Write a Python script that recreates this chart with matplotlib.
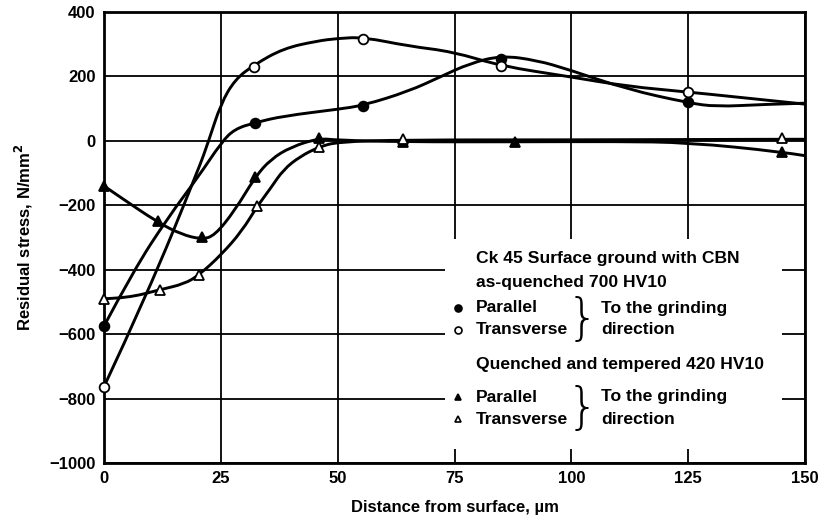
import numpy as np
import matplotlib.pyplot as plt
from matplotlib.path import Path
from matplotlib.patches import PathPatch, Rectangle
from matplotlib.lines import Line2D

plt.rcParams['font.family'] = ['Liberation Sans', 'DejaVu Sans']

# Measured points (markers)
fc_x = [0, 32.4, 55.5, 85, 125]          # as-quenched, parallel
fc_y = [-575, 55, 108, 255, 120]
oc_x = [0, 32.1, 55.5, 85, 125]          # as-quenched, transverse
oc_y = [-763, 228, 317, 231, 151]
ft_x = [0, 11.5, 20.9, 32.4, 45.9, 64, 88, 145]   # Q+T, parallel
ft_y = [-140, -250, -300, -111, 10, -5, -5, -34]
ot_x = [0, 12, 20.4, 32.8, 46, 64, 145]          # Q+T, transverse
ot_y = [-490, -462, -416, -203, -19, 5, 8]

# Curve traces
fc_cx = [0, 6.3, 13.7, 20.2, 25.2, 28, 32.4, 38.4, 50, 55.5, 65.2, 72, 78.2, 85, 92.6, 99.3, 112, 125, 131, 141, 150]
fc_cy = [-575, -403, -238, -111, -3, 37, 57, 77, 98, 110, 154, 199, 240, 265, 250, 222, 160, 118, 106, 113, 117]
oc_cx = [0, 9.3, 20.2, 22.4, 25, 28, 32.1, 38.4, 45.6, 50, 55.5, 65.2, 74.6, 85, 99.3, 112, 125, 150]
oc_cy = [-763, -475, -89, 0, 115, 190, 236, 287, 310, 318, 322, 294, 277, 232, 200, 169, 152, 114]
ft_cx = [0, 3.5, 11.5, 16.5, 20.9, 23.7, 28, 32.4, 35.7, 40, 45.9, 50, 64, 88, 110, 125, 145, 150]
ft_cy = [-140, -175, -253, -290, -306, -294, -216, -111, -57, -19, 8, 2, -3, -3, -2, -5, -34, -46]
ot_cx = [0, 5, 12, 17.2, 20.4, 25.2, 29.5, 32.8, 35.7, 38.4, 42, 46, 50, 64, 100, 145, 150]
ot_cy = [-490, -488, -462, -444, -416, -352, -280, -203, -146, -89, -48, -19, -3, 3, 3, 5, 5]


def smooth_curve(ax, xs, ys):
    # quadratic bezier through midpoints, trace points act as control points
    pts = list(zip(xs, ys))
    verts = [pts[0]]
    codes = [Path.MOVETO]
    for i in range(1, len(pts) - 1):
        mid = ((pts[i][0] + pts[i + 1][0]) / 2, (pts[i][1] + pts[i + 1][1]) / 2)
        if i == len(pts) - 2:
            mid = pts[-1]
        verts += [pts[i], mid]
        codes += [Path.CURVE3, Path.CURVE3]
    ax.add_patch(PathPatch(Path(verts, codes), fill=False, lw=2.1,
                           edgecolor='black', zorder=3, capstyle='round'))


fig = plt.figure(figsize=(8.23, 5.24), dpi=100)
ax = fig.add_axes([104 / 823, 1 - 463 / 524, 701 / 823, 451 / 524])
ax.set_xlim(0, 150)
ax.set_ylim(-1000, 400)
ax.set_xticks([0, 25, 50, 75, 100, 125, 150])
ax.set_yticks(np.arange(-1000, 401, 200))
ax.grid(True, color='black', lw=1.3, zorder=1)
ax.tick_params(length=0, pad=6, labelsize=12)
for lab in ax.get_xticklabels() + ax.get_yticklabels():
    lab.set_fontweight('bold')
for s in ax.spines.values():
    s.set_linewidth(2.0)

# white area under the key text
ax.add_patch(Rectangle((73, -955), 72, 650, facecolor='white', edgecolor='none', zorder=2))

for cx, cy in [(fc_cx, fc_cy), (oc_cx, oc_cy), (ft_cx, ft_cy), (ot_cx, ot_cy)]:
    smooth_curve(ax, cx, cy)

mk = dict(ls='none', mec='black', mew=1.3, ms=7, zorder=4, clip_on=False)
ax.plot(fc_x, fc_y, marker='o', mfc='black', **mk)
ax.plot(oc_x, oc_y, marker='o', mfc='white', **mk)
ax.plot(ft_x, ft_y, marker='^', mfc='black', **mk)
ax.plot(ot_x, ot_y, marker='^', mfc='white', **mk)

ax.set_xlabel('Distance from surface, µm', fontsize=12, fontweight='bold', labelpad=10)
ax.set_ylabel('Residual stress, N/mm$^\\mathbf{2}$', fontsize=12, fontweight='bold', labelpad=10)

# key text
def ftext(px, py, s, **kw):
    fig.text(px / 823, 1 - py / 524, s, va='center', ha='left',
             fontsize=12.6, fontweight='bold', **kw)

ftext(476, 258, 'Ck 45 Surface ground with CBN')
ftext(476, 282, 'as-quenched 700 HV10')
ftext(476, 308, 'Parallel')
ftext(476, 330, 'Transverse')
ftext(601, 308, 'To the grinding')
ftext(601, 330, 'direction')
ftext(476, 364, 'Quenched and tempered 420 HV10')
ftext(476, 397, 'Parallel')
ftext(476, 419, 'Transverse')
ftext(601, 397, 'To the grinding')
ftext(601, 419, 'direction')
for py in (320, 409):
    fig.text(582 / 823, 1 - py / 524, '}', va='center', ha='center',
             fontsize=36, family='DejaVu Sans', fontweight='light')

for px, py, m, fcol in [(458, 308, 'o', 'black'), (458, 330, 'o', 'white'),
                        (458, 397, '^', 'black'), (458, 419, '^', 'white')]:
    fig.add_artist(Line2D([px / 823], [1 - py / 524], marker=m, mfc=fcol, mec='black',
                          mew=1.2, ms=5, transform=fig.transFigure))

fig.savefig('out.png', dpi=100)
